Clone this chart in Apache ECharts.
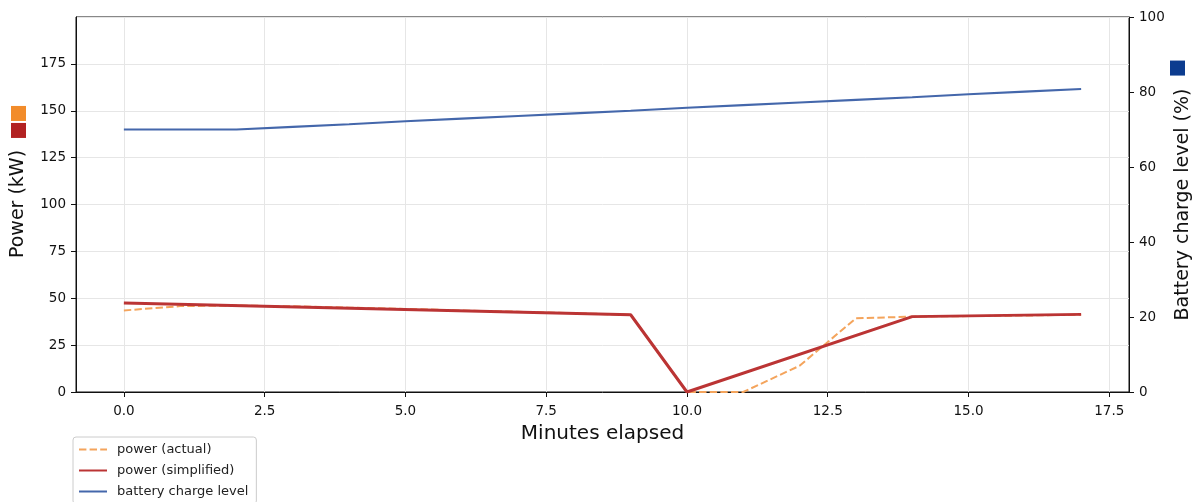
<!DOCTYPE html>
<html>
<head>
<meta charset="utf-8">
<script src="https://cdn.jsdelivr.net/npm/echarts@6/dist/echarts.min.js"></script>
<style>html,body{margin:0;padding:0;background:#fff;}#c{width:1202px;height:502px;}</style>
</head>
<body>
<div id="c"></div>
<script>
const minutes = [0,1,2,3,4,5,6,7,8,9,10,11,12,13,14,15,16,17];
const powerActual = [43.5,45.8,46.1,45.7,45.0,44.3,43.5,42.8,42.0,41.2,0,0,14,39.3,40.2,40.5,40.8,41.2];
const simplifiedMinutes = [0,9,10,14,17];
const powerSimplified = [47.5,41.2,0,40.2,41.4];
const batteryLevel = [70,70,70,70.7,71.4,72.2,72.9,73.6,74.3,75.0,75.8,76.5,77.2,77.9,78.6,79.4,80.1,80.8];
const xTicks = [0,2.5,5,7.5,10,12.5,15,17.5];
const seriesNames = ['power (actual)','power (simplified)','battery charge level'];

const font = 'DejaVu Sans';
const pairs = (xs, ys) => xs.map((x,i)=>[x, ys[i]]);

const chart = echarts.init(document.getElementById('c'), null, {renderer:'canvas'});
chart.setOption({
  animation:false,
  backgroundColor:'#fff',
  textStyle:{fontFamily:font},
  grid:{left:76,right:73,top:17,bottom:110,containLabel:false,outerBoundsMode:'none',
    show:true,borderColor:'#111',borderWidth:1,backgroundColor:'transparent'},
  legend:{
    orient:'vertical', left:73, top:437, height:100,
    padding:[6,8,6,5], itemWidth:28, itemHeight:12, itemGap:8,
    borderColor:'#cccccc', borderWidth:1, borderRadius:3,
    backgroundColor:'#fff',
    itemStyle:{opacity:0},
    textStyle:{fontFamily:font,fontSize:13,color:'#222',padding:[0,0,0,5]},
    data:seriesNames
  },
  xAxis:{
    type:'value', min:-0.85, max:17.85,
    name:'Minutes elapsed', nameLocation:'middle', nameGap:32,
    nameTextStyle:{fontFamily:font,fontSize:20,color:'#111'},
    axisLine:{show:true,onZero:false,lineStyle:{color:'#111',width:1}},
    axisTick:{show:true,length:5,inside:false,lineStyle:{color:'#111'},customValues:xTicks},
    axisLabel:{fontFamily:font,fontSize:13.5,color:'#111',margin:12,customValues:xTicks,
      formatter:v=>v.toFixed(1)},
    splitLine:{show:true,lineStyle:{color:'#e6e6e6',width:1}}
  },
  yAxis:[{
    type:'value', min:0, max:200, interval:25, position:'left',
    name:'{pad|}Power (kW){gap|}{r|}{g2|}{o|}', nameLocation:'middle', nameGap:48, nameRotate:90,
    nameTextStyle:{fontFamily:font,fontSize:19,color:'#111',
      rich:{
        pad:{width:45,height:14},
        gap:{width:12,height:14},
        g2:{width:2,height:14},
        r:{width:15,height:15,backgroundColor:'#b22222'},
        o:{width:15,height:15,backgroundColor:'#f28c2a'}
      }},
    axisLine:{show:true,onZero:false,lineStyle:{color:'#111'}},
    axisTick:{show:true,length:5,lineStyle:{color:'#111'}},
    axisLabel:{fontFamily:font,fontSize:13.5,color:'#111',margin:10,showMaxLabel:false},
    splitLine:{show:true,lineStyle:{color:'#e6e6e6',width:1}}
  },{
    type:'value', min:0, max:100, interval:20, position:'right',
    name:'{pad|}{t|Battery charge level (%)}{gap|}{b|}', nameLocation:'middle', nameGap:41, nameRotate:90,
    nameMoveOverlap:false,
    nameTextStyle:{fontFamily:font,fontSize:19,color:'#111',
      rich:{
        t:{fontFamily:font,fontSize:19,color:'#111',lineHeight:26},
        pad:{width:28,height:14},
        gap:{width:13,height:14},
        b:{width:15,height:15,backgroundColor:'#0c3c8f',verticalAlign:'top'}
      }},
    axisLine:{show:true,onZero:false,lineStyle:{color:'#111'}},
    axisTick:{show:true,length:5,lineStyle:{color:'#111'}},
    axisLabel:{fontFamily:font,fontSize:13.5,color:'#111',margin:10},
    splitLine:{show:false}
  }],
  series:[{
    name:seriesNames[0], type:'line', yAxisIndex:0, symbol:'none', z:2,
    data:pairs(minutes,powerActual),
    lineStyle:{color:'#f4a45c',width:2,type:[7.4,3.2]},
    itemStyle:{color:'#f4a45c'}
  },{
    name:seriesNames[1], type:'line', yAxisIndex:0, symbol:'none', z:3,
    data:pairs(simplifiedMinutes,powerSimplified),
    lineStyle:{color:'#bb3434',width:3},
    itemStyle:{color:'#bb3434'}
  },{
    name:seriesNames[2], type:'line', yAxisIndex:1, symbol:'none', z:3,
    data:pairs(minutes,batteryLevel),
    lineStyle:{color:'#4467ab',width:2.2},
    itemStyle:{color:'#4467ab'}
  }]
});
</script>
</body>
</html>
